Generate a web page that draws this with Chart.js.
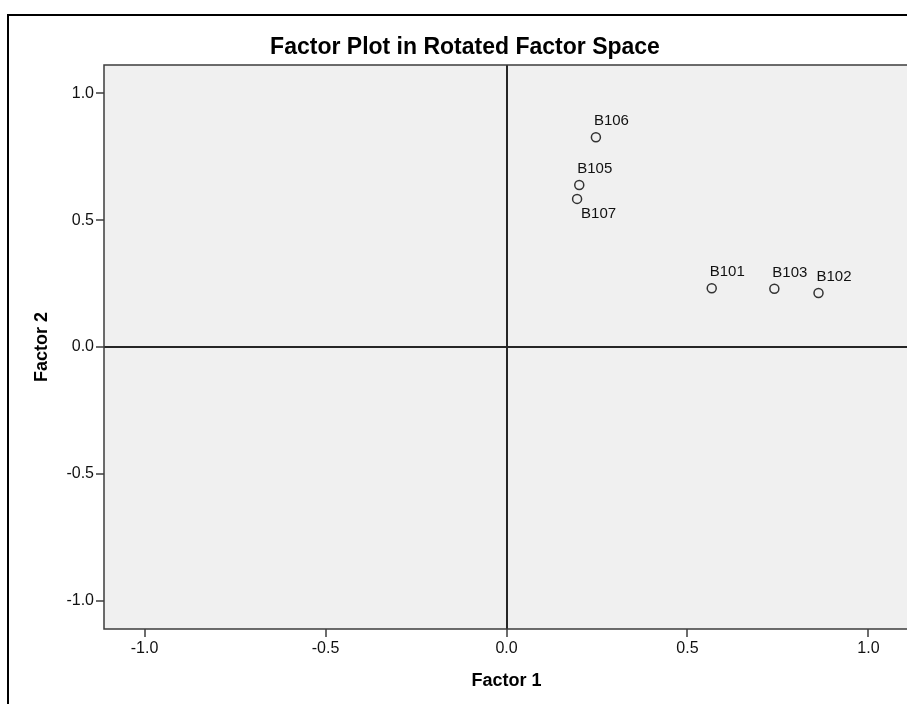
<!DOCTYPE html>
<html>
<head>
<meta charset="utf-8">
<script src="https://cdn.jsdelivr.net/npm/chart.js@4.4.1/dist/chart.umd.min.js"></script>
<style>
  html, body { margin: 0; padding: 0; background: #ffffff; overflow: hidden; width: 907px; height: 704px; }
  #frame { position: absolute; left: 7px; top: 14px; width: 1000px; height: 800px;
           border-left: 2px solid #000; border-top: 2px solid #000; pointer-events: none; }
  #wrap { position: absolute; left: 0; top: 0; width: 915px; height: 704px; }
</style>
</head>
<body>
<div id="wrap"><canvas id="c" width="915" height="704"></canvas></div>
<div id="frame"></div>
<script>
// ---- data ----
const itemNames = ['B101', 'B102', 'B103', 'B105', 'B106', 'B107'];
const factor1   = [0.567, 0.862, 0.740, 0.201, 0.247, 0.195];
const factor2   = [0.232, 0.213, 0.230, 0.639, 0.827, 0.584];
const labelSide = ['above', 'above', 'above', 'above', 'above', 'below'];
const tickValues = [-1.0, -0.5, 0.0, 0.5, 1.0];
const axisMin = -1.112, axisMax = 1.112;

const FONT = "'Liberation Sans', Arial, sans-serif";

const points = itemNames.map((n, i) => ({ x: factor1[i], y: factor2[i] }));

const plotBg = {
  id: 'plotBg',
  beforeDraw(chart) {
    const { ctx, chartArea: a } = chart;
    ctx.save();
    ctx.fillStyle = '#f0f0f0';
    ctx.fillRect(a.left, a.top, a.right - a.left, a.bottom - a.top);
    ctx.restore();
  },
  afterDraw(chart) {
    const { ctx, chartArea: a } = chart;
    ctx.save();
    ctx.strokeStyle = '#3c3c3c';
    ctx.lineWidth = 1.5;
    ctx.strokeRect(a.left, a.top, a.right - a.left, a.bottom - a.top);
    ctx.restore();
  }
};

const pointLabels = {
  id: 'pointLabels',
  afterDatasetsDraw(chart) {
    const { ctx } = chart;
    const meta = chart.getDatasetMeta(0);
    ctx.save();
    ctx.font = '15px ' + FONT;
    ctx.fillStyle = '#111';
    ctx.textAlign = 'left';
    ctx.textBaseline = 'middle';
    meta.data.forEach((el, i) => {
      if (labelSide[i] === 'below') {
        ctx.fillText(itemNames[i], el.x + 4, el.y + 15);
      } else {
        ctx.fillText(itemNames[i], el.x - 2, el.y - 16);
      }
    });
    ctx.restore();
  }
};

function gridOpts() {
  return {
    drawOnChartArea: true,
    drawTicks: true,
    tickLength: 8,
    tickColor: '#3c3c3c',
    tickWidth: 1.5,
    color: c => (c.tick && c.tick.value === 0) ? '#262626' : 'rgba(0,0,0,0)',
    lineWidth: c => (c.tick && c.tick.value === 0) ? 2 : 0
  };
}

new Chart(document.getElementById('c'), {
  type: 'scatter',
  data: {
    datasets: [{
      label: 'Items',
      data: points,
      pointStyle: 'circle',
      pointRadius: 4.5,
      pointHoverRadius: 4.5,
      pointBorderWidth: 1.5,
      borderColor: '#333',
      backgroundColor: 'rgba(0,0,0,0)'
    }]
  },
  options: {
    responsive: false,
    animation: false,
    events: [],
    layout: { padding: { left: 19, right: 4, top: 0, bottom: 0 } },
    plugins: {
      legend: { display: false },
      tooltip: { enabled: false },
      title: {
        display: true,
        text: 'Factor Plot in Rotated Factor Space',
        color: '#000',
        font: { family: FONT, size: 23, weight: 'bold' },
        padding: { top: 34.2, bottom: 3.2 }
      }
    },
    scales: {
      x: {
        type: 'linear',
        min: axisMin, max: axisMax,
        afterBuildTicks: s => { s.ticks = tickValues.map(v => ({ value: v })); },
        afterFit: s => { s.height = 75; },
        border: { display: false },
        grid: gridOpts(),
        ticks: {
          padding: 2,
          color: '#111',
          font: { family: FONT, size: 16 },
          callback: v => Number(v).toFixed(1)
        },
        title: {
          display: true,
          text: 'Factor 1',
          color: '#000',
          font: { family: FONT, size: 18, weight: 'bold' },
          padding: { top: 0, bottom: 12.2 }
        }
      },
      y: {
        type: 'linear',
        min: axisMin, max: axisMax,
        afterBuildTicks: s => { s.ticks = tickValues.map(v => ({ value: v })); },
        afterFit: s => { s.width = 85; },
        border: { display: false },
        grid: gridOpts(),
        ticks: {
          padding: 2,
          color: '#111',
          font: { family: FONT, size: 16 },
          callback: v => Number(v).toFixed(1)
        },
        title: {
          display: true,
          text: 'Factor 2',
          color: '#000',
          font: { family: FONT, size: 18, weight: 'bold' },
          padding: { top: 12.2, bottom: 0 }
        }
      }
    }
  },
  plugins: [plotBg, pointLabels]
});
</script>
</body>
</html>
